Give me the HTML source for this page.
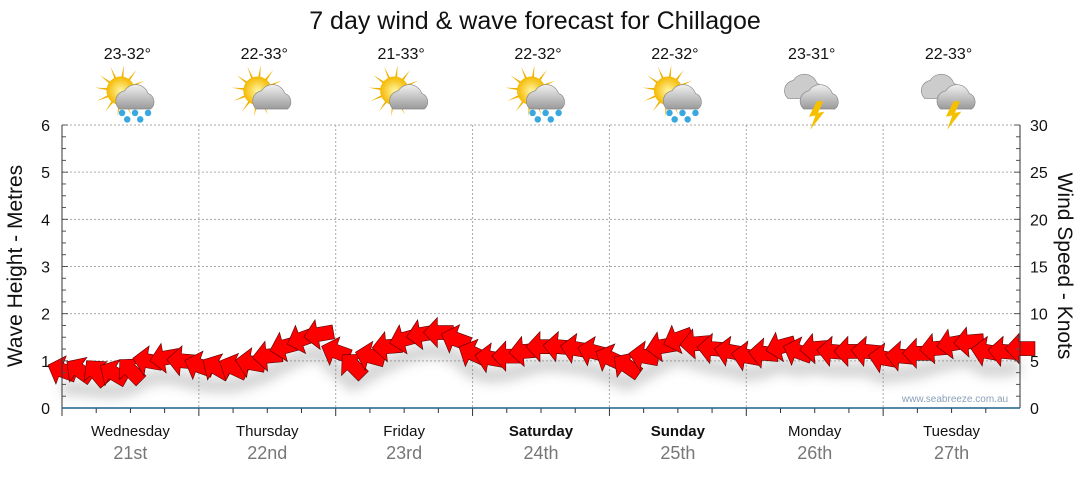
<!DOCTYPE html>
<html><head><meta charset="utf-8"><style>
body{margin:0;background:#fff;width:1080px;height:475px;overflow:hidden;font-family:"Liberation Sans",sans-serif}
</style></head><body>
<svg id="c" width="1080" height="475" font-family="Liberation Sans, sans-serif">
<defs>
<filter id="blur" x="-20%" y="-50%" width="140%" height="200%"><feGaussianBlur stdDeviation="6"/></filter>
<radialGradient id="sun"><stop offset="0" stop-color="#fff6a0"/><stop offset="1" stop-color="#f5b800"/></radialGradient>
<linearGradient id="cloud" x1="0" y1="0" x2="0" y2="1"><stop offset="0" stop-color="#f0f0f0"/><stop offset="1" stop-color="#9a9a9a"/></linearGradient>
</defs>
<text x="535" y="29" text-anchor="middle" font-size="25" fill="#111">7 day wind &amp; wave forecast for Chillagoe</text>
<g id="grid"></g>
<g id="shadow" filter="url(#blur)" opacity="0.3"></g>
<g id="arrows"></g>
<g id="axes"></g>
<text x="955" y="402" text-anchor="middle" font-size="10" fill="#8aa0b8">www.seabreeze.com.au</text>
<text transform="translate(22,266) rotate(-90)" text-anchor="middle" font-size="21" fill="#111">Wave Height - Metres</text>
<text transform="translate(1058,266) rotate(90)" text-anchor="middle" font-size="21" fill="#111">Wind Speed - Knots</text>
</svg>
<script>
const days=["Wednesday","Thursday","Friday","Saturday","Sunday","Monday","Tuesday"];
const dates=["21st","22nd","23rd","24th","25th","26th","27th"];
const temps=["23-32°","22-33°","21-33°","22-32°","22-32°","23-31°","22-33°"];
const icons=["rain","cloud","cloud","rain","rain","storm","storm"];
const bold=[false,false,false,true,true,false,false];
const waveTicks=[0,1,2,3,4,5,6];
const windTicks=[0,5,10,15,20,25,30];
// wind speed (knots) every 3 hours
const windSpeed=[4.0,4.0,3.8,3.7,4.0,5.0,5.3,5.0, 4.5,4.3,4.3,4.8,5.5,6.5,7.3,7.8, 6.0,4.5,5.5,6.5,7.3,7.8,8.0,7.3, 5.8,5.3,5.5,6.0,6.5,6.5,6.3,6.0, 5.3,4.5,5.5,6.5,7.3,6.8,6.3,6.0, 5.5,5.8,6.5,6.0,6.3,6.0,6.0,6.0, 5.3,5.5,5.8,6.3,6.8,7.0,6.0,6.0,6.3];
// direction the arrow points (degrees, 180 = left)
const windDir=[200,215,230,210,225,190,170,185, 200,210,205,190,175,165,160,170, 200,225,195,175,165,170,180,200, 205,190,180,175,180,185,190,195, 205,215,190,170,160,175,185,190, 190,185,165,200,175,185,180,185, 190,185,180,175,170,175,190,185,180];
const X0=62,X1=1020,Y0=408,Y1=125;
const xs=i=>X0+(X1-X0)*i/56;
const yw=k=>Y0-(Y0-Y1)*k/30;
const ym=m=>Y0-(Y0-Y1)*m/6;
const NS="http://www.w3.org/2000/svg";
function mk(t,a,p){const e=document.createElementNS(NS,t);for(const k in a)e.setAttribute(k,a[k]);p.appendChild(e);return e;}
const grid=document.getElementById('grid'),axes=document.getElementById('axes');
waveTicks.forEach(v=>{if(v>0){const l=mk('line',{x1:X0,x2:X1,y1:ym(v),y2:ym(v),stroke:'#aaa','stroke-dasharray':'2,2'},grid);

}
const t=mk('text',{x:X0-12,y:ym(v)+6,'text-anchor':'end','font-size':16,fill:'#111'},axes);t.textContent=v;

});
windTicks.forEach(v=>{const t=mk('text',{x:X1+10,y:yw(v)+6,'font-size':16,fill:'#111'},axes);t.textContent=v;

});
for(let q=0;q<=24;q++){const y=ym(q/4);mk('line',{x1:X0,x2:X0+(q%4?4:6),y1:y,y2:y,stroke:'#555'},axes);mk('line',{x1:X1,x2:X1-(q%4?4:6),y1:y,y2:y,stroke:'#555'},axes);}
mk('line',{x1:X0,x2:X0,y1:Y1,y2:Y0,stroke:'#333'},axes);mk('line',{x1:X1,x2:X1,y1:Y1,y2:Y0,stroke:'#333'},axes);
const dw=(X1-X0)/7;
for(let d=0;d<7;d++){
 if(d>0){const l=mk('line',{x1:X0+d*dw,x2:X0+d*dw,y1:Y1,y2:Y0,stroke:'#aaa','stroke-dasharray':'2,2'},grid);
 
 }
 for(let q=0;q<4;q++){const x=X0+d*dw+q*dw/4;mk('line',{x1:x,x2:x,y1:Y0,y2:Y0+(q?5:8),stroke:'#333'},axes);}
 const cx=X0+d*dw+dw/2;
 const t1=mk('text',{x:cx,y:436,'text-anchor':'middle','font-size':15,fill:'#111','font-weight':bold[d]?'bold':'normal'},axes);t1.textContent=days[d];
 
 
 const t2=mk('text',{x:cx,y:459,'text-anchor':'middle','font-size':18,fill:'#777'},axes);t2.textContent=dates[d];
 
 
 const t3=mk('text',{x:cx-3,y:59,'text-anchor':'middle','font-size':16,fill:'#111'},axes);t3.textContent=temps[d];
 
 
 const g=mk('g',{transform:`translate(${cx+2},96) scale(1.3)`},axes);
 
 
 if(icons[d]!=='storm'){for(let r=0;r<12;r++){const a=r*30*Math.PI/180;mk('polygon',{points:`${-9+Math.cos(a)*8},${-4+Math.sin(a)*8} ${-9+Math.cos(a+0.25)*8},${-4+Math.sin(a+0.25)*8} ${-9+Math.cos(a+0.12)*20},${-4+Math.sin(a+0.12)*20}`,fill:'#f0b000'},g);}
 mk('circle',{cx:-9,cy:-4,r:11,fill:'url(#sun)'},g);}
 if(icons[d]==='storm'){mk('path',{d:'M-22,2 a8,8 0 0 1 4,-14 a10,10 0 0 1 18,2 a7,7 0 0 1 2,12 z',fill:'#ccc',stroke:'#888','stroke-width':0.5},g);}
 mk('path',{d:'M-10,10 a8,8 0 0 1 4,-14 a10,10 0 0 1 18,2 a7,7 0 0 1 2,12 z',fill:'url(#cloud)',stroke:'#888','stroke-width':0.5},g);
 if(icons[d]==='storm'){mk('polygon',{points:'0,4 -6,16 -1,15 -5,26 6,12 1,13 5,4',fill:'#f5c000'},g);}
 if(icons[d]==='rain'){[-8,2,12,-4,6].forEach((x,i)=>mk('circle',{cx:x,cy:i<3?13:18,r:2.5,fill:'#3aa8e0'},g));}
}
mk('line',{x1:X0,x2:X1,y1:Y0,y2:Y0,stroke:'#1f5f8b','stroke-width':1.5},axes);
const ar=document.getElementById('arrows'),sh=document.getElementById('shadow');
let sp='';windSpeed.forEach((v,i)=>{sp+=(i?'L':'M')+xs(i)+','+(yw(v)+18);});
mk('path',{d:sp,stroke:'#666','stroke-width':14,fill:'none'},sh);
windSpeed.forEach((v,i)=>{
 const x=xs(i),y=yw(v);
 const a=mk('polygon',{points:'-15,0 -1,-15 -1,-7 15,-7 15,7 -1,7 -1,15',fill:'#f00',stroke:'#500','stroke-width':0.6,transform:`translate(${x},${y}) rotate(${windDir[i]-180})`},ar);
 
 
});
</script>
</body></html>
